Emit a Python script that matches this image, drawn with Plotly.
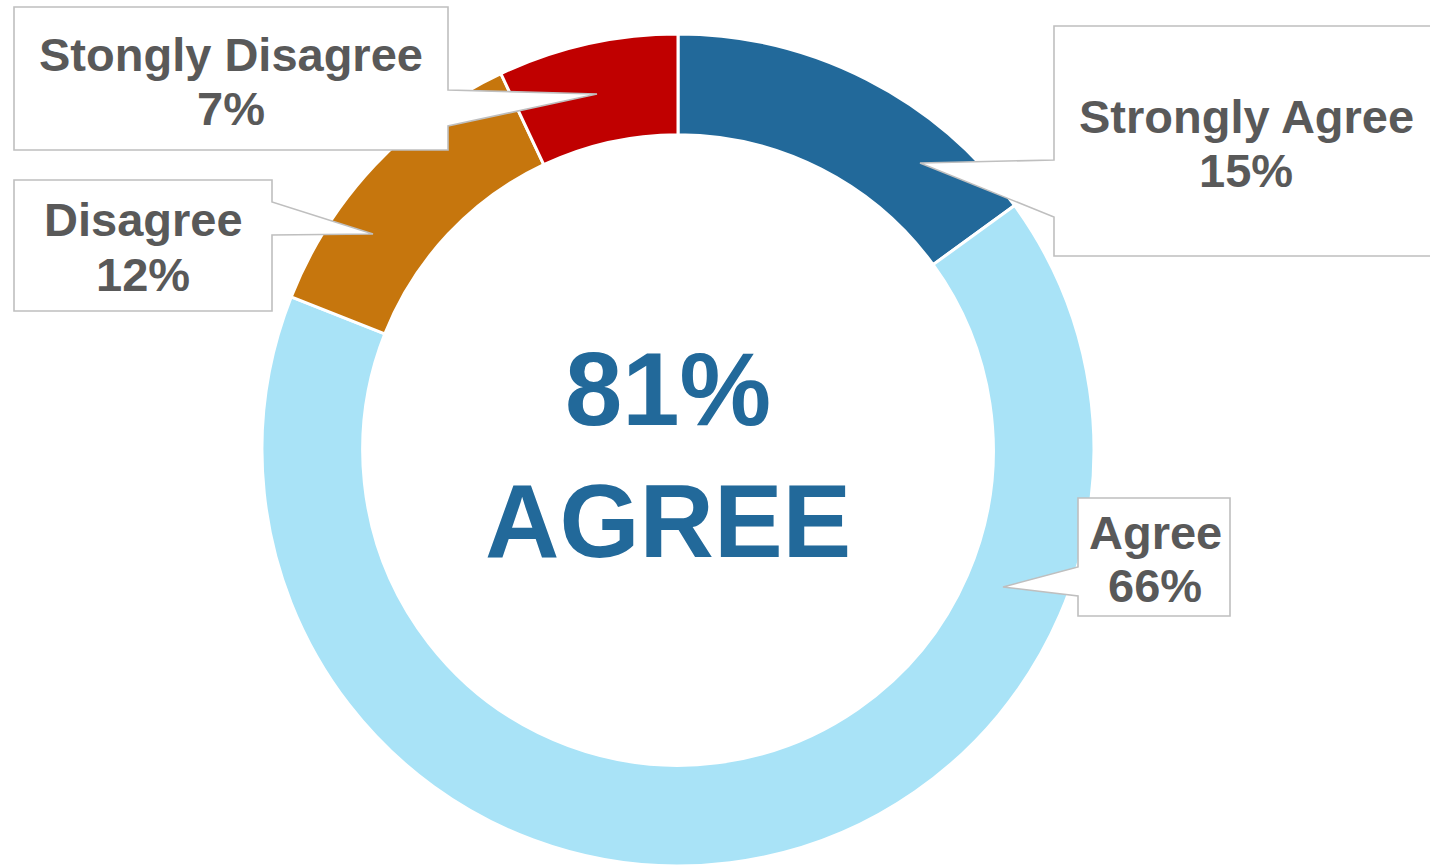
import plotly.graph_objects as go

# Survey responses, clockwise from 12 o'clock
categories = ["Strongly Agree", "Agree", "Disagree", "Stongly Disagree"]
shares = [15, 66, 12, 7]
slice_colors = ["#22699A", "#A9E3F7", "#C6760D", "#C00000"]
center_word = "AGREE"

W, H = 1430, 866
TEXT_GREY = "#595959"
CENTER_BLUE = "#22699A"
FONT = "Liberation Sans, Arial, sans-serif"


def px(x, y):
    """Pixel position -> paper coordinates."""
    return x / W, 1 - y / H


# Callout layout per category: box (x0, y0, x1, y1), wedge anchor on the
# box side (side, ya, yb), pointer tip, and text line centres.
callouts = {
    "Strongly Agree": dict(box=(1054, 26, 1432, 256), side="left", wedge=(160, 217),
                           tip=(920, 163), tx=1246, ty=(116, 170)),
    "Agree": dict(box=(1078, 498, 1230, 616), side="left", wedge=(567, 596),
                  tip=(1003, 587), tx=1155, ty=(532, 585)),
    "Disagree": dict(box=(14, 180, 272, 311), side="right", wedge=(202, 235),
                     tip=(373, 234), tx=143, ty=(219, 274)),
    "Stongly Disagree": dict(box=(14, 7, 448, 150), side="right", wedge=(90, 126),
                             tip=(597, 94), tx=231, ty=(54, 108)),
}

fig = go.Figure(
    go.Pie(
        labels=categories,
        values=shares,
        marker=dict(colors=slice_colors, line=dict(color="white", width=3)),
        hole=0.758,
        sort=False,
        direction="clockwise",
        rotation=0,
        textinfo="none",
        hoverinfo="label+percent",
        domain=dict(x=[262 / W, 1094 / W], y=[0, 1 - 34 / H]),
        showlegend=False,
    )
)

shapes = []
annotations = []
for name, share in zip(categories, shares):
    c = callouts[name]
    x0, y0, x1, y1 = c["box"]
    ya, yb = c["wedge"]
    tx, ty = c["tip"]
    if c["side"] == "left":
        pts = [(x0, y0), (x1, y0), (x1, y1), (x0, y1), (x0, yb), (tx, ty), (x0, ya)]
    else:
        pts = [(x0, y0), (x1, y0), (x1, ya), (tx, ty), (x1, yb), (x1, y1), (x0, y1)]
    path = "M " + " L ".join("{:.5f},{:.5f}".format(*px(x, y)) for x, y in pts) + " Z"
    shapes.append(dict(type="path", path=path, xref="paper", yref="paper",
                       fillcolor="white", line=dict(color="#BFBFBF", width=1.6),
                       layer="above"))
    for text, yy in zip([name, f"{share}%"], c["ty"]):
        ax, ay = px(c["tx"], yy)
        annotations.append(dict(text=f"<b>{text}</b>", x=ax, y=ay, xref="paper", yref="paper",
                                xanchor="center", yanchor="middle", showarrow=False,
                                font=dict(family=FONT, size=47, color=TEXT_GREY)))

agree_total = shares[0] + shares[1]
for text, yy in [(f"{agree_total}%", 389), (center_word, 521)]:
    ax, ay = px(668, yy)
    annotations.append(dict(text=f"<b>{text}</b>", x=ax, y=ay, xref="paper", yref="paper",
                            xanchor="center", yanchor="middle", showarrow=False,
                            font=dict(family=FONT, size=103, color=CENTER_BLUE)))

fig.update_layout(
    width=W, height=H,
    margin=dict(l=0, r=0, t=0, b=0),
    paper_bgcolor="white", plot_bgcolor="white",
    shapes=shapes, annotations=annotations,
)

fig.write_html("out.html")
